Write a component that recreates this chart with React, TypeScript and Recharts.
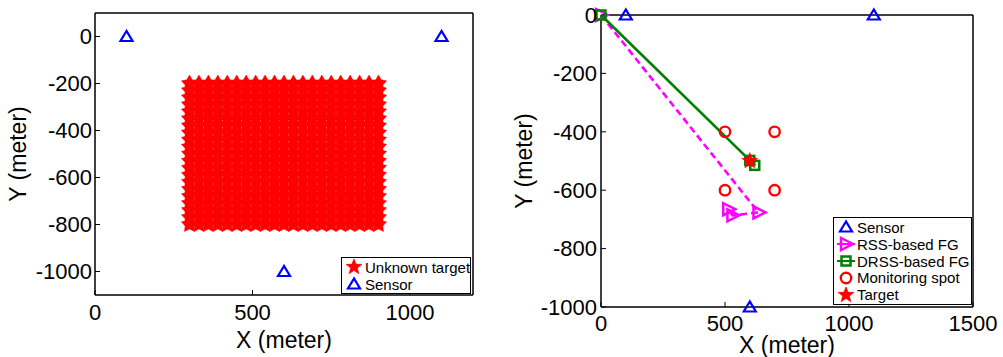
import React from "react";
import {
  ScatterChart,
  Scatter,
  XAxis,
  YAxis,
  Label,
  ReferenceArea,
} from "recharts";

// left panel: candidate target positions (dense star cloud) + sensors
const cloudX = [300, 330, 360, 390, 420, 450, 480, 510, 540, 570, 600, 630, 660, 690, 720, 750, 780, 810, 840, 870, 900];
const cloudY = [-200, -230, -260, -290, -320, -350, -380, -410, -440, -470, -500, -530, -560, -590, -620, -650, -680, -710, -740, -770, -800];
const leftSensors = [
  { x: 100, y: 0 },
  { x: 1100, y: 0 },
  { x: 600, y: -1000 },
];

// right panel
const sensors = [
  { x: 100, y: 0 },
  { x: 1100, y: 0 },
  { x: 600, y: -1000 },
];
const rssPath = [
  { x: 0, y: 0 },
  { x: 635, y: -676 },
  { x: 530, y: -686 },
  { x: 513, y: -665 },
];
const drssPath = [
  { x: 0, y: 0 },
  { x: 600, y: -498 },
  { x: 620, y: -515 },
];
const spots = [
  { x: 500, y: -400 },
  { x: 700, y: -400 },
  { x: 500, y: -600 },
  { x: 700, y: -600 },
];
const target = [{ x: 600, y: -500 }];

const leftXTicks = [0, 500, 1000];
const leftYTicks = [0, -200, -400, -600, -800, -1000];
const rightXTicks = [0, 500, 1000, 1500];
const rightYTicks = [0, -200, -400, -600, -800, -1000];

const cloud = cloudX.flatMap((x) => cloudY.map((y) => ({ x, y })));

const FONT = "'Liberation Sans', Arial, Helvetica, sans-serif";
const RED = "#FF0000";
const BLUE = "#0000FF";
const GREEN = "#008000";
const MAGENTA = "#FF00FF";

function starPoints(cx: number, cy: number, R: number, r: number) {
  const pts: string[] = [];
  for (let i = 0; i < 10; i++) {
    const rad = i % 2 === 0 ? R : r;
    const a = -Math.PI / 2 + (i * Math.PI) / 5;
    pts.push(`${cx + rad * Math.cos(a)},${cy + rad * Math.sin(a)}`);
  }
  return pts.join(" ");
}

const Star = ({ cx, cy }: any) => (
  <polygon points={starPoints(cx, cy, 8.5, 3.6)} fill={RED} stroke={RED} strokeWidth={0.5} />
);
const CloudStar = ({ cx, cy }: any) => (
  <polygon points={starPoints(cx, cy, 8.5, 4.6)} fill={RED} stroke={RED} strokeWidth={0.5} />
);
const Tri = ({ cx, cy }: any) => (
  <polygon
    points={`${cx},${cy - 5.5} ${cx - 6},${cy + 4.5} ${cx + 6},${cy + 4.5}`}
    fill="none"
    stroke={BLUE}
    strokeWidth={2.2}
  />
);
const RightTri = ({ cx, cy }: any) => (
  <polygon
    points={`${cx + 7},${cy} ${cx - 5},${cy - 6} ${cx - 5},${cy + 6}`}
    fill="none"
    stroke={MAGENTA}
    strokeWidth={2.5}
  />
);
const Sq = ({ cx, cy }: any) => (
  <rect x={cx - 4.5} y={cy - 4.5} width={9} height={9} fill="none" stroke={GREEN} strokeWidth={2.5} />
);
const Ring = ({ cx, cy }: any) => (
  <circle cx={cx} cy={cy} r={5.2} fill="none" stroke={RED} strokeWidth={2.4} />
);

const tickStyle = { fontSize: 22, fill: "#000", fontFamily: FONT };

function yLabel(dx: number) {
  return ({ viewBox }: any) => {
    const x = viewBox.x + dx;
    const y = viewBox.y + viewBox.height / 2;
    return (
      <text
        x={x}
        y={y}
        transform={`rotate(-90, ${x}, ${y})`}
        textAnchor="middle"
        dominantBaseline="central"
        fontSize={23}
        fontFamily={FONT}
        fill="#000"
      >
        Y (meter)
      </text>
    );
  };
}

function xLabel(dy: number) {
  return ({ viewBox }: any) => (
    <text
      x={viewBox.x + viewBox.width / 2}
      y={viewBox.y + dy}
      textAnchor="middle"
      dominantBaseline="central"
      fontSize={23}
      fontFamily={FONT}
      fill="#000"
    >
      X (meter)
    </text>
  );
}

const LegendIcon = ({ kind }: { kind: string }) => (
  <svg width={22} height={16} style={{ display: "block", flex: "none" }}>
    {kind === "star" && <Star cx={11} cy={8} />}
    {kind === "tri" && <Tri cx={11} cy={8} />}
    {kind === "rss" && (
      <>
        <line x1={2} y1={8} x2={20} y2={8} stroke={MAGENTA} strokeWidth={2} />
        <RightTri cx={11} cy={8} />
      </>
    )}
    {kind === "drss" && (
      <>
        <line x1={2} y1={8} x2={20} y2={8} stroke={GREEN} strokeWidth={2} />
        <Sq cx={11} cy={8} />
      </>
    )}
    {kind === "ring" && <Ring cx={11} cy={8} />}
  </svg>
);

function LegendBox({ items, style }: { items: { kind: string; label: string }[]; style: any }) {
  return (
    <div
      style={{
        position: "absolute",
        boxSizing: "border-box",
        border: "1.5px solid #000",
        background: "#fff",
        fontFamily: FONT,
        fontSize: 15,
        color: "#000",
        padding: "1px 0 0 1px",
        ...style,
      }}
    >
      {items.map((it) => (
        <div key={it.label} style={{ display: "flex", alignItems: "center", height: 16.8, whiteSpace: "nowrap" }}>
          <LegendIcon kind={it.kind} />
          <span>{it.label}</span>
        </div>
      ))}
    </div>
  );
}

export default function App() {
  return (
    <div
      style={{
        position: "absolute",
        left: 0,
        top: 0,
        width: 1003,
        height: 357,
        background: "#fff",
        fontFamily: FONT,
      }}
    >
      <div style={{ position: "absolute", left: 0, top: 0 }}>
        <ScatterChart width={500} height={357} margin={{ top: 12, right: 26, bottom: 0, left: 0 }}>
          <XAxis
            type="number"
            dataKey="x"
            domain={[0, 1200]}
            ticks={leftXTicks}
            height={62}
            tick={tickStyle}
            tickSize={-5}
            tickMargin={14}
            stroke="#000"
          >
            <Label content={xLabel(45)} />
          </XAxis>
          <XAxis
            xAxisId="top"
            orientation="top"
            type="number"
            dataKey="x"
            domain={[0, 1200]}
            ticks={leftXTicks}
            height={1}
            tickFormatter={() => ""}
            tickSize={-5}
            stroke="#000"
          />
          <YAxis
            type="number"
            dataKey="y"
            domain={[-1100, 100]}
            ticks={leftYTicks}
            width={95}
            tick={tickStyle}
            tickSize={-5}
            tickMargin={8}
            stroke="#000"
          >
            <Label content={yLabel(18)} />
          </YAxis>
          <YAxis
            yAxisId="right"
            orientation="right"
            type="number"
            dataKey="y"
            domain={[-1100, 100]}
            ticks={leftYTicks}
            width={1}
            tickFormatter={() => ""}
            tickSize={-5}
            stroke="#000"
          />
          <ReferenceArea x1={0} x2={1200} y1={-1100} y2={100} fill="none" stroke="#000" strokeWidth={1} />
          <Scatter data={cloud} shape={CloudStar} isAnimationActive={false} />
          <Scatter data={leftSensors} shape={Tri} isAnimationActive={false} />
        </ScatterChart>
      </div>

      <div style={{ position: "absolute", left: 500, top: 0 }}>
        <ScatterChart width={503} height={357} margin={{ top: 14, right: 29, bottom: 0, left: 0 }}>
          <XAxis
            type="number"
            dataKey="x"
            domain={[0, 1500]}
            ticks={rightXTicks}
            height={50}
            tick={tickStyle}
            tickSize={-5}
            tickMargin={13}
            stroke="#000"
          >
            <Label content={xLabel(38)} />
          </XAxis>
          <XAxis
            xAxisId="top"
            orientation="top"
            type="number"
            dataKey="x"
            domain={[0, 1500]}
            ticks={rightXTicks}
            height={1}
            tickFormatter={() => ""}
            tickSize={-5}
            stroke="#000"
          />
          <YAxis
            type="number"
            dataKey="y"
            domain={[-1000, 0]}
            ticks={rightYTicks}
            width={101}
            tick={tickStyle}
            tickSize={-5}
            tickMargin={9}
            stroke="#000"
          >
            <Label content={yLabel(24)} />
          </YAxis>
          <YAxis
            yAxisId="right"
            orientation="right"
            type="number"
            dataKey="y"
            domain={[-1000, 0]}
            ticks={rightYTicks}
            width={1}
            tickFormatter={() => ""}
            tickSize={-5}
            stroke="#000"
          />
          <ReferenceArea x1={0} x2={1500} y1={-1000} y2={0} fill="none" stroke="#000" strokeWidth={1} />
          <Scatter data={sensors} shape={Tri} isAnimationActive={false} />
          <Scatter
            data={rssPath}
            shape={RightTri}
            line={{ stroke: MAGENTA, strokeWidth: 2.6, strokeDasharray: "7 4" }}
            isAnimationActive={false}
          />
          <Scatter
            data={drssPath}
            shape={Sq}
            line={{ stroke: GREEN, strokeWidth: 2.6 }}
            isAnimationActive={false}
          />
          <Scatter data={spots} shape={Ring} isAnimationActive={false} />
          <Scatter data={target} shape={Star} isAnimationActive={false} />
        </ScatterChart>
      </div>

      <LegendBox
        style={{ left: 341, top: 257, width: 130, height: 37 }}
        items={[
          { kind: "star", label: "Unknown target" },
          { kind: "tri", label: "Sensor" },
        ]}
      />
      <LegendBox
        style={{ left: 833, top: 217, width: 139, height: 88 }}
        items={[
          { kind: "tri", label: "Sensor" },
          { kind: "rss", label: "RSS-based FG" },
          { kind: "drss", label: "DRSS-based FG" },
          { kind: "ring", label: "Monitoring spot" },
          { kind: "star", label: "Target" },
        ]}
      />
    </div>
  );
}
